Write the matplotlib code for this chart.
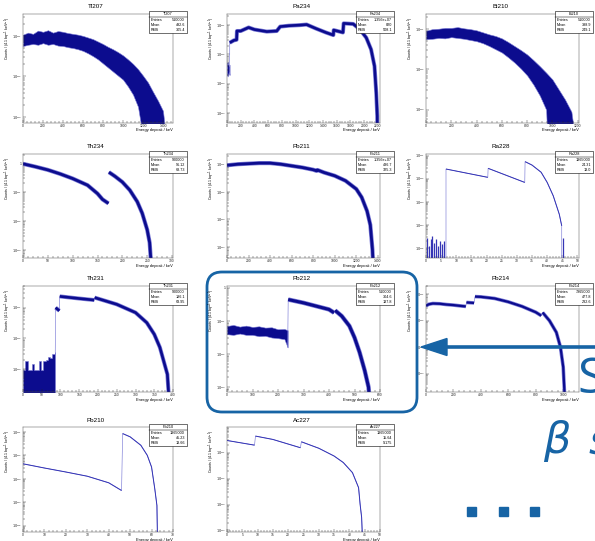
import numpy as np
import matplotlib
matplotlib.use('Agg')
import matplotlib.pyplot as plt
from matplotlib.patches import Rectangle, FancyBboxPatch, Polygon
from matplotlib.ticker import AutoMinorLocator, LogLocator, FuncFormatter, NullFormatter

W, H = 595, 541
FLOOR = -7.0   # log10 value below every y range: bins that run down to the axis

# ---- spectra: energy in keV, counts given as log10 ---------------------------
# Tl207, noisy band (upper / lower edge)
tl207_e = [0, 50, 100, 150, 200, 250, 300, 350, 400, 450, 500, 550, 600, 650, 700,
           750, 800, 850, 900, 950, 1000, 1050, 1100, 1150, 1200, 1250, 1300, 1350, 1400, 1420]
tl207_hi = [-0.97, -0.92, -0.95, -0.87, -0.90, -0.86, -0.92, -0.88, -0.90, -0.93, -0.95, -0.97,
            -1.00, -1.04, -1.08, -1.14, -1.20, -1.27, -1.33, -1.40, -1.48, -1.58, -1.69, -1.82,
            -1.98, -2.15, -2.38, -2.60, -2.85, -3.30]
tl207_lo = [-1.25, -1.22, -1.20, -1.22, -1.18, -1.22, -1.20, -1.24, -1.25, -1.28, -1.30, -1.33,
            -1.37, -1.43, -1.50, -1.58, -1.68, -1.78, -1.88, -1.98, -2.08, -2.25, -2.45, -2.75,
            -3.50, FLOOR, FLOOR, FLOOR, FLOOR, FLOOR]

# Pb234
pb234_noise_e = [0, 10, 20, 30, 38]
pb234_noise_hi = [-2.30, -2.25, -2.35, -2.40, -2.35]
pb234_noise_lo = [-2.70, -2.75, -2.65, -2.60, -2.70]
pb234_e = [40, 100, 140, 145, 200, 315, 400, 580, 725, 775, 900, 1060, 1160, 1300, 1440,
           1550, 1555, 1690, 1700, 1840, 1935, 2030, 2100, 2150, 2175, 2190, 2196]
pb234_lg = [-1.60, -1.52, -1.50, -1.20, -1.20, -1.08, -1.15, -1.22, -1.20, -1.05, -1.02, -1.00,
            -0.98, -1.12, -1.25, -1.34, -1.17, -1.25, -0.94, -0.96, -1.14, -1.43, -1.83, -2.40,
            -3.30, -4.10, FLOOR]

# Bi210, noisy band
bi210_e = [0, 50, 100, 150, 200, 250, 300, 350, 400, 450, 500, 550, 600, 650, 700, 750,
           800, 850, 900, 950, 1000, 1050, 1100, 1150, 1170]
bi210_hi = [-1.04, -1.00, -0.99, -0.97, -0.97, -0.95, -0.98, -1.00, -1.03, -1.08, -1.13, -1.17,
            -1.23, -1.32, -1.42, -1.52, -1.63, -1.77, -1.92, -2.08, -2.25, -2.50, -2.75, -3.05, -3.50]
bi210_lo = [-1.25, -1.24, -1.22, -1.23, -1.20, -1.22, -1.24, -1.27, -1.30, -1.35, -1.42, -1.50,
            -1.58, -1.70, -1.83, -1.98, -2.15, -2.38, -2.65, -3.00, FLOOR, FLOOR, FLOOR, FLOOR, FLOOR]

# Th234, two branches
th234_e1 = [0, 25, 50, 75, 100, 130, 150, 160, 172]
th234_lg1 = [-0.02, -0.12, -0.23, -0.37, -0.53, -0.76, -1.05, -1.25, -1.39]
th234_e2 = [173, 185, 200, 215, 230, 240, 250, 255, 258]
th234_lg2 = [-0.31, -0.45, -0.65, -0.93, -1.33, -1.73, -2.30, -2.75, -3.50]

# Pb211
pb211_e = [0, 100, 200, 300, 400, 500, 600, 700, 800, 830, 840, 900, 1000, 1100, 1200,
           1250, 1300, 1330, 1350, 1360]
pb211_lg = [-1.04, -1.00, -0.98, -0.96, -0.96, -1.00, -1.06, -1.12, -1.20, -1.24, -1.21, -1.30,
            -1.42, -1.60, -1.90, -2.20, -2.70, -3.20, -4.10, -5.00]

# Ra228: low-energy single counts, then three branches
ra228_noise_e = [0.3, 0.9, 1.5, 2.1, 2.7, 3.3, 3.9, 4.6, 5.2, 5.9, 45.3]
ra228_noise_lg = [-4.55, -4.91, -4.62, -4.48, -4.77, -4.62, -4.91, -4.70, -4.84, -4.70, -4.55]
ra228_e1 = [6.6, 20.4]
ra228_lg1 = [-1.58, -1.94]
ra228_e2 = [20.5, 32.6]
ra228_lg2 = [-1.55, -2.16]
ra228_e3 = [32.7, 35, 38, 40, 42, 44, 44.8]
ra228_lg3 = [-1.26, -1.41, -1.72, -2.16, -2.74, -3.54, -4.04]

# Th231
th231_noise_e = [0, 6, 12, 18, 24, 30, 36, 42, 48, 54, 60, 66, 72, 78, 84, 86]
th231_noise_hi = [-3.05, -2.75, -3.05, -3.05, -2.85, -3.05, -3.05, -2.75, -3.05, -2.75,
                  -2.70, -2.60, -2.65, -2.50, -2.45, -2.45]
th231_e1 = [87, 92, 97]
th231_lg1 = [-1.00, -1.05, -1.10]
th231_e2 = [98, 120, 150, 190]
th231_lg2 = [-0.63, -0.66, -0.70, -0.75]
th231_e3 = [191, 250, 300, 330, 350, 365, 375, 385, 392]
th231_lg3 = [-0.67, -0.89, -1.16, -1.49, -1.87, -2.30, -2.74, -3.18, -4.50]

# Pb212
pb212_noise_e = [0, 25, 50, 75, 100, 125, 150, 175, 200, 225, 238]
pb212_noise_hi = [-1.15, -1.12, -1.17, -1.14, -1.18, -1.16, -1.20, -1.19, -1.25, -1.24, -1.28]
pb212_noise_lo = [-1.40, -1.42, -1.38, -1.42, -1.42, -1.46, -1.45, -1.50, -1.52, -1.55, -1.80]
pb212_e1 = [240, 270, 300, 350, 400, 420]
pb212_lg1 = [-0.35, -0.40, -0.45, -0.55, -0.65, -0.75]
pb212_e2 = [424, 450, 480, 500, 520, 540, 555, 565]
pb212_lg2 = [-0.68, -0.85, -1.15, -1.50, -1.95, -2.50, -3.00, -4.00]

# Pb214
pb214_e1 = [0, 20, 50, 100, 150, 200, 250, 290]
pb214_lg1 = [-1.44, -1.38, -1.35, -1.36, -1.39, -1.41, -1.44, -1.46]
pb214_e2 = [295, 350]
pb214_lg2 = [-1.31, -1.33]
pb214_e3 = [357, 400, 500, 600, 700, 800, 840]
pb214_lg3 = [-1.09, -1.10, -1.16, -1.29, -1.46, -1.68, -1.81]
pb214_e4 = [850, 900, 950, 980, 1000, 1012]
pb214_lg4 = [-1.69, -2.00, -2.44, -3.00, -3.75, -5.00]

# Pb210
pb210_e1 = [0, 10, 20, 30, 40, 46]
pb210_lg1 = [-2.36, -2.54, -2.71, -2.89, -3.17, -3.50]
pb210_e2 = [46.5, 50, 55, 58, 60, 61.5, 62.5, 63]
pb210_lg2 = [-1.07, -1.21, -1.57, -2.00, -2.50, -3.43, -4.14, FLOOR]

# Ac227
ac227_e1 = [0, 9]
ac227_lg1 = [-0.53, -0.71]
ac227_e2 = [9.3, 15, 24]
ac227_lg2 = [-0.36, -0.49, -0.81]
ac227_e3 = [24.3, 30, 35, 38, 41, 43, 43.5, 44, 44.5]
ac227_lg3 = [-0.58, -0.83, -1.13, -1.38, -1.77, -2.35, -2.99, -3.50, -5.00]

# stats boxes: name, entries, mean, rms
stats_tl207 = ('Tl207', '510000', '492.6', '305.4')
stats_pb234 = ('Pa234', '1.356e+07', '820', '508.1')
stats_bi210 = ('Bi210', '510000', '388.9', '249.1')
stats_th234 = ('Th234', '900000', '96.12', '68.73')
stats_pb211 = ('Pb211', '1.356e+07', '486.7', '325.3')
stats_ra228 = ('Ra228', '1365000', '24.31', '13.0')
stats_th231 = ('Th231', '900000', '186.1', '63.95')
stats_pb212 = ('Pb212', '510000', '304.6', '137.8')
stats_pb214 = ('Pb214', '7965000', '477.8', '232.6')
stats_pb210 = ('Pb210', '1365000', '45.23', '13.66')
stats_ac227 = ('Ac227', '1365000', '15.64', '9.175')

YTITLE = r'Counts / (4.1 bq$^{-1}$ keV$^{-1}$)'
XTITLE = 'Energy deposit / keV'

plt.rcParams['font.family'] = ['Liberation Sans', 'DejaVu Sans']
plt.rcParams['mathtext.fontset'] = 'dejavusans'

NAVY = '#0c0c8e'
HALO = '#7b7bd6'
THIN = '#3535b5'
SLIDE = '#1764a5'

fig = plt.figure(figsize=(W / 100, H / 100), dpi=100)
fig.patch.set_facecolor('white')

# overlay in pixel units for titles, stats boxes and the slide decorations
ov = fig.add_axes([0, 0, 1, 1], zorder=10)
ov.set_xlim(0, W)
ov.set_ylim(H, 0)
ov.axis('off')


def lg(vals):
    return 10.0 ** np.asarray(vals, dtype=float)


def decade_label(v, pos):
    n = int(round(np.log10(v)))
    if n == 0:
        return '1'
    if n == 1:
        return '10'
    return r'$10^{%d}$' % n


def stats_box(l, t, stats):
    name, entries, mean, rms = stats
    ov.add_patch(Rectangle((l, t), 38, 22, fc='white', ec='black', lw=0.4))
    ov.plot([l, l + 38], [t + 5.5, t + 5.5], color='black', lw=0.35)
    ov.text(l + 19, t + 2.9, name, ha='center', va='center', fontsize=2.8)
    for i, (k, v) in enumerate([('Entries', entries), ('Mean', mean), ('RMS', rms)]):
        y = t + 9 + 5 * i
        ov.text(l + 2, y, k, ha='left', va='center', fontsize=2.7)
        ov.text(l + 36, y, v, ha='right', va='center', fontsize=2.7)


def panel(box, stats, xlim, xticks, ylim):
    l, t, r, b = box
    ax = fig.add_axes([l / W, 1 - b / H, (r - l) / W, (b - t) / H])
    ax.set_yscale('log')
    ax.set_xlim(*xlim)
    ax.set_ylim(10.0 ** ylim[0], 10.0 ** ylim[1])
    ax.set_xticks(xticks)
    ax.xaxis.set_minor_locator(AutoMinorLocator(5))
    ax.yaxis.set_major_locator(LogLocator(base=10, numticks=12))
    ax.yaxis.set_minor_locator(LogLocator(base=10, subs=np.arange(2, 10), numticks=12))
    ax.yaxis.set_major_formatter(FuncFormatter(decade_label))
    ax.yaxis.set_minor_formatter(NullFormatter())
    ax.tick_params(which='both', direction='in', width=0.3, labelsize=2.4, pad=0.8,
                   colors='#222222')
    ax.tick_params(which='major', length=2.4)
    ax.tick_params(which='minor', length=1.2)
    for s in ax.spines.values():
        s.set_linewidth(0.35)
        s.set_color('#555555')

    ov.text((l + r) / 2 - 2, t - 7, stats[0], ha='center', va='center', fontsize=4.5)
    ov.text(l - 15.5, t + 2, YTITLE, rotation=90, ha='center', va='top', fontsize=2.6)
    ov.text(r, b + 7.5, XTITLE, ha='right', va='center', fontsize=2.9)
    stats_box(r - 24, t - 3, stats)
    return ax


def band(ax, e, hi, lo, color=NAVY, step=None):
    ax.fill_between(e, lg(lo), lg(hi), facecolor=color, edgecolor=HALO, lw=0.4, step=step)


def trace(ax, segs, lw, color=NAVY, halo=True):
    # thin line through every point shows the jumps between branches
    all_e = np.concatenate([np.asarray(e, float) for e, _ in segs])
    all_v = np.concatenate([np.asarray(v, float) for _, v in segs])
    ax.plot(all_e, lg(all_v), color=HALO, lw=0.45)
    for e, v in segs:
        if halo:
            ax.plot(e, lg(v), color=HALO, lw=lw + 1.0, solid_capstyle='butt')
        ax.plot(e, lg(v), color=color, lw=lw, solid_capstyle='butt')


COLS = [(23, 173), (227, 380), (426, 579)]
ROWS = [(14, 123), (154, 258), (286, 392), (427, 532)]


def cell(col, row):
    return (COLS[col][0], ROWS[row][0], COLS[col][1], ROWS[row][1])


# row 1
ax = panel(cell(0, 0), stats_tl207, (0, 1500), range(0, 1401, 200), (-3.15, -0.46))
band(ax, tl207_e, tl207_hi, tl207_lo)

ax = panel(cell(1, 0), stats_pb234, (0, 2230), range(0, 2201, 200), (-4.34, -0.62))
band(ax, pb234_noise_e, pb234_noise_hi, pb234_noise_lo)
trace(ax, [([38], [pb234_noise_lo[-1]]), (pb234_e, pb234_lg)], 1.9)

ax = panel(cell(2, 0), stats_bi210, (0, 1210), range(0, 1201, 200), (-3.33, -0.625))
band(ax, bi210_e, bi210_hi, bi210_lo)

# row 2
ax = panel(cell(0, 1), stats_th234, (0, 302), range(0, 301, 50), (-3.28, 0.32))
for e, v in [(th234_e1, th234_lg1), (th234_e2, th234_lg2)]:
    trace(ax, [(e, v)], 2.0)

ax = panel(cell(1, 1), stats_pb211, (0, 1420), range(0, 1401, 200), (-4.4, -0.63))
trace(ax, [(pb211_e, pb211_lg)], 2.0)

ax = panel(cell(2, 1), stats_ra228, (0, 50.5), range(0, 51, 5), (-5.43, -0.93))
ax.vlines(ra228_noise_e, lg([FLOOR] * len(ra228_noise_e)), lg(ra228_noise_lg),
          color=THIN, lw=0.9)
trace(ax, [([6.6], [FLOOR]), (ra228_e1, ra228_lg1), (ra228_e2, ra228_lg2),
           (ra228_e3, ra228_lg3), ([44.8], [FLOOR])], 0.7, color=THIN, halo=False)

# row 3
ax = panel(cell(0, 2), stats_th231, (0, 400), range(0, 401, 50), (-3.76, -0.29))
band(ax, th231_noise_e, th231_noise_hi, [FLOOR] * len(th231_noise_e), step='post')
trace(ax, [([86], [th231_noise_hi[-1]]), (th231_e1, th231_lg1), (th231_e2, th231_lg2),
           (th231_e3, th231_lg3)], 1.9)

ax = panel(cell(1, 2), stats_pb212, (0, 600), range(0, 601, 100), (-3.15, 0.06))
band(ax, pb212_noise_e, pb212_noise_hi, pb212_noise_lo)
trace(ax, [([238], [pb212_noise_lo[-1]]), (pb212_e1, pb212_lg1), (pb212_e2, pb212_lg2)], 2.2)

ax = panel(cell(2, 2), stats_pb214, (0, 1115), range(0, 1001, 200), (-4.69, -0.69))
trace(ax, [(pb214_e1, pb214_lg1), (pb214_e2, pb214_lg2), (pb214_e3, pb214_lg3),
           (pb214_e4, pb214_lg4)], 1.6)

# row 4
ax = panel(cell(0, 3), stats_pb210, (0, 70), range(0, 71, 10), (-5.27, -0.79))
trace(ax, [(pb210_e1, pb210_lg1), (pb210_e2, pb210_lg2)], 0.7, color=THIN, halo=False)

ax = panel(cell(1, 3), stats_ac227, (0, 50), range(0, 51, 5), (-4.06, -0.01))
trace(ax, [(ac227_e1, ac227_lg1), (ac227_e2, ac227_lg2), (ac227_e3, ac227_lg3)],
      0.7, color=THIN, halo=False)

# slide decorations: highlight frame, arrow, partial text, dots
ov.add_patch(FancyBboxPatch((207, 272), 210, 140, boxstyle='round,pad=0,rounding_size=15',
                            fill=False, ec=SLIDE, lw=2.0))
ov.plot([W, 445], [347, 347], color=SLIDE, lw=2.6, solid_capstyle='butt')
ov.add_patch(Polygon([[421, 347], [447, 338.5], [447, 355.5]], closed=True, color=SLIDE))
ov.text(577, 393, 'S', fontsize=36, color=SLIDE, family='Open Sans', ha='left', va='baseline')
ov.text(543, 453, r'$\beta$', fontsize=31, color=SLIDE, ha='left', va='baseline')
ov.text(588, 453, r'$s$', fontsize=31, color=SLIDE, ha='left', va='baseline')
for x in (467, 498.5, 530):
    ov.add_patch(Rectangle((x, 507), 9, 9, color=SLIDE))

fig.savefig('out.png', dpi=100, facecolor='white')
